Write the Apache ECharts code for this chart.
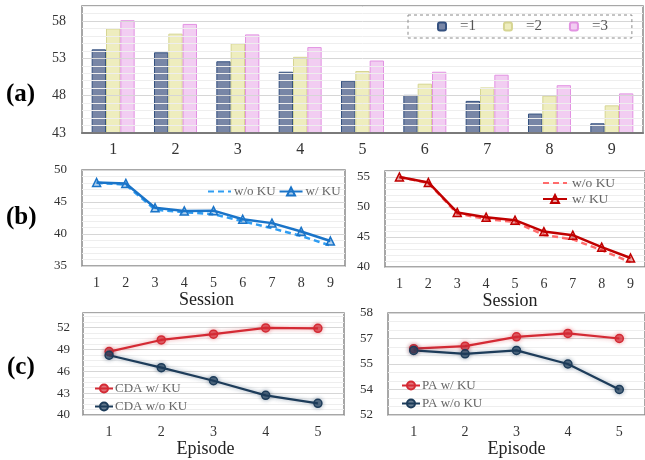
<!DOCTYPE html>
<html>
<head>
<meta charset="utf-8">
<script src="https://cdn.jsdelivr.net/npm/echarts@6/dist/echarts.min.js"></script>
<style>
  html, body { margin: 0; padding: 0; background: #fff; }
  #chart { width: 645px; height: 460px; }
</style>
</head>
<body>
<div id="chart"></div>
<script>
// ---- data ----
const sessions = ['1', '2', '3', '4', '5', '6', '7', '8', '9'];
const episodes = ['1', '2', '3', '4', '5'];
const epsNames = ['=1', '=2', '=3'];

// (a) accuracy per session for three settings
const barEps1 = [54.2, 53.8, 52.6, 51.2, 50.0, 48.1, 47.3, 45.6, 44.3];
const barEps2 = [57.0, 56.3, 55.0, 53.2, 51.3, 49.6, 49.1, 48.0, 46.7];
const barEps3 = [58.1, 57.6, 56.2, 54.5, 52.7, 51.2, 50.8, 49.4, 48.3];

// (b) session curves, with and without KU
const sessLeftNoKU = [48.0, 47.7, 43.8, 43.4, 43.1, 42.0, 40.9, 39.7, 38.2];
const sessLeftKU = [48.05, 47.9, 44.1, 43.6, 43.65, 42.3, 41.7, 40.4, 38.9];
const sessRightNoKU = [55.0, 54.0, 48.9, 48.0, 47.5, 45.35, 44.6, 42.8, 40.8];
const sessRightKU = [55.0, 54.1, 49.1, 48.3, 47.8, 45.9, 45.3, 43.3, 41.5];

// (c) episode curves
const cdaKU = [48.7, 50.3, 51.1, 51.95, 51.9];
const cdaNoKU = [48.2, 46.5, 44.7, 42.7, 41.6];
const paKU = [55.9, 56.05, 56.6, 56.8, 56.5];
const paNoKU = [55.8, 55.6, 55.8, 55.0, 53.5];

// ---- helpers ----
const SERIF = '"Liberation Serif", "Times New Roman", serif';

function cycle(period, major, minor) {
  const arr = [];
  for (let i = 0; i < period; i++) arr.push(i === 0 ? major : minor);
  return arr;
}
function majorFormatter(min, step, round) {
  return function (v) {
    const k = (v - min) / step;
    if (Math.abs(k - Math.round(k)) < 1e-6) return round ? String(Math.round(v)) : String(+v.toFixed(2));
    return '';
  };
}
function valueAxis(gridIndex, min, max, interval, period, majorStep, fontSize, margin, round) {
  return {
    gridIndex, type: 'value', min, max, interval,
    axisLine: { show: false }, axisTick: { show: false },
    axisLabel: { formatter: majorFormatter(min, majorStep, round), fontSize, color: '#333', fontFamily: SERIF, margin },
    splitLine: { lineStyle: { color: cycle(period, '#d6d6d6', '#eeeeee'), width: 1 } }
  };
}
function catAxis(gridIndex, data, fontSize, margin, name, namePad) {
  return {
    gridIndex, type: 'category', data, boundaryGap: true,
    axisLine: { show: false }, axisTick: { show: false },
    axisLabel: { fontSize, color: '#333', fontFamily: SERIF, margin },
    name: name || '', nameLocation: 'middle', nameGap: 23,
    nameTextStyle: { fontSize: 18, color: '#222', fontFamily: SERIF, padding: namePad || 0 }
  };
}
const gridStyle = { show: true, borderColor: '#8a8a8a', borderWidth: 1.5, backgroundColor: '#fff' };

// display text for legend items whose series names carry a panel prefix
const legendText = {
  'bl-no': 'w/o KU', 'bl-ku': 'w/ KU', 'br-no': 'w/o KU', 'br-ku': 'w/ KU',
  'cda-ku': 'CDA w/ KU', 'cda-no': 'CDA w/o KU', 'pa-ku': 'PA w/ KU', 'pa-no': 'PA w/o KU'
};
const legendFmt = n => legendText[n] || n;

function sessionLine(name, data, axisIdx, color, dashed) {
  return {
    name, type: 'line', data, xAxisIndex: axisIdx, yAxisIndex: axisIdx,
    symbol: 'triangle', symbolSize: 8, showSymbol: !dashed,
    lineStyle: { color, width: 2.5, type: dashed ? [6, 4] : 'solid' },
    // dashed curves carry no markers, so their symbol stays hidden in the legend too
    itemStyle: dashed ? { color, opacity: 0 } : { color: color + '55', borderColor: color, borderWidth: 1.5 },
    z: dashed ? 2 : 3
  };
}
function episodeLine(name, data, axisIdx, color, glow) {
  return {
    name, type: 'line', data, xAxisIndex: axisIdx, yAxisIndex: axisIdx,
    symbol: 'circle', symbolSize: 8,
    lineStyle: { color, width: 2.2, shadowBlur: 4, shadowColor: glow },
    itemStyle: { color: color + 'aa', borderColor: color, borderWidth: 1.5, shadowBlur: 4, shadowColor: glow }
  };
}

const barAxis = valueAxis(0, 43, 60, 1, 5, 5, 14, 16);
barAxis.z = 3; // grid lines run across the bars

const option = {
  animation: false,
  backgroundColor: '#fff',
  textStyle: { fontFamily: SERIF },
  grid: [
    Object.assign({ left: 82, top: 6, width: 561, height: 127 }, gridStyle),
    Object.assign({ left: 82, top: 170, width: 263, height: 96 }, gridStyle),
    Object.assign({ left: 385, top: 171, width: 263, height: 96 }, gridStyle),
    Object.assign({ left: 83, top: 313, width: 261, height: 102 }, gridStyle),
    Object.assign({ left: 388, top: 313, width: 263, height: 102 }, gridStyle)
  ],
  xAxis: [
    Object.assign(catAxis(0, sessions, 16, 9), { z: 4, axisLine: { show: true, lineStyle: { color: '#7a7a7a', width: 2 } } }),
    catAxis(1, sessions, 14, 10, 'Session', [0, 14, 0, 0]),
    catAxis(2, sessions, 14, 10, 'Session', [0, 10, 0, 0]),
    catAxis(3, episodes, 14, 10, 'Episode', [0, 16, 0, 0]),
    catAxis(4, episodes, 14, 10, 'Episode')
  ],
  yAxis: [
    barAxis,
    valueAxis(1, 35, 50, 1, 5, 5, 13, 15),
    valueAxis(2, 40, 56, 1, 5, 5, 13, 15),
    valueAxis(3, 40, 54, 0.75, 4, 3, 13, 13),
    valueAxis(4, 52, 58, 0.5, 3, 1.5, 13, 15, true)
  ],
  legend: [
    {
      data: epsNames, left: 408, top: 15, orient: 'horizontal',
      padding: [4, 24, 4, 29], itemGap: 27, itemWidth: 8, itemHeight: 8,
      borderColor: '#8a8a8a', borderWidth: 1, borderType: [3, 3],
      textStyle: { fontSize: 15, color: '#555', fontFamily: SERIF, padding: [0, 0, 0, 9] }
    },
    {
      data: ['bl-no', 'bl-ku'], formatter: legendFmt, left: 207, top: 185, orient: 'horizontal',
      padding: 0, itemGap: 3, itemWidth: 23, itemHeight: 10,
      textStyle: { fontSize: 13, color: '#666', fontFamily: SERIF, padding: [0, 0, 0, -2] }
    },
    {
      data: ['br-no', 'br-ku'], formatter: legendFmt, left: 542, top: 176, orient: 'vertical',
      padding: 0, itemGap: 2, itemWidth: 24, itemHeight: 10,
      textStyle: { fontSize: 13.5, color: '#666', fontFamily: SERIF }
    },
    {
      data: ['cda-ku', 'cda-no'], formatter: legendFmt, left: 94, top: 382, orient: 'vertical',
      padding: 0, itemGap: 5, itemWidth: 18, itemHeight: 10,
      textStyle: { fontSize: 13, color: '#666', fontFamily: SERIF, padding: [0, 0, 0, -3] }
    },
    {
      data: ['pa-ku', 'pa-no'], formatter: legendFmt, left: 401, top: 379, orient: 'vertical',
      padding: 0, itemGap: 5, itemWidth: 18, itemHeight: 10,
      textStyle: { fontSize: 13, color: '#666', fontFamily: SERIF, padding: [0, 0, 0, -3] }
    }
  ],
  series: [
    {
      name: epsNames[0], type: 'bar', data: barEps1, xAxisIndex: 0, yAxisIndex: 0,
      barGap: '0%', barCategoryGap: '31%',
      itemStyle: { color: '#7886a6', borderColor: '#34507f', borderWidth: 1 }
    },
    {
      name: epsNames[1], type: 'bar', data: barEps2, xAxisIndex: 0, yAxisIndex: 0,
      barGap: '0%', barCategoryGap: '31%',
      itemStyle: { color: '#eeedbe', borderColor: '#d6d592', borderWidth: 1 }
    },
    {
      name: epsNames[2], type: 'bar', data: barEps3, xAxisIndex: 0, yAxisIndex: 0,
      barGap: '0%', barCategoryGap: '31%',
      itemStyle: { color: '#f2cdf2', borderColor: '#e293e2', borderWidth: 1 }
    },
    sessionLine('bl-no', sessLeftNoKU, 1, '#2f9df2', true),
    sessionLine('bl-ku', sessLeftKU, 1, '#1a74c8', false),
    sessionLine('br-no', sessRightNoKU, 2, '#ff6b6b', true),
    sessionLine('br-ku', sessRightKU, 2, '#c00000', false),
    episodeLine('cda-ku', cdaKU, 3, '#d42a34', 'rgba(212,42,52,0.45)'),
    episodeLine('cda-no', cdaNoKU, 3, '#1d3c5a', 'rgba(29,60,90,0.45)'),
    episodeLine('pa-ku', paKU, 4, '#d42a34', 'rgba(212,42,52,0.45)'),
    episodeLine('pa-no', paNoKU, 4, '#1d3c5a', 'rgba(29,60,90,0.45)')
  ],
  graphic: [
    { type: 'text', left: 6, top: 82, style: { text: '(a)', font: 'bold 25px "Liberation Serif"', fill: '#000' } },
    { type: 'text', left: 6, top: 205, style: { text: '(b)', font: 'bold 25px "Liberation Serif"', fill: '#000' } },
    { type: 'text', left: 7, top: 355, style: { text: '(c)', font: 'bold 25px "Liberation Serif"', fill: '#000' } }
  ]
};

const chart = echarts.init(document.getElementById('chart'), null, { renderer: 'canvas' });
chart.setOption(option);
</script>
</body>
</html>
